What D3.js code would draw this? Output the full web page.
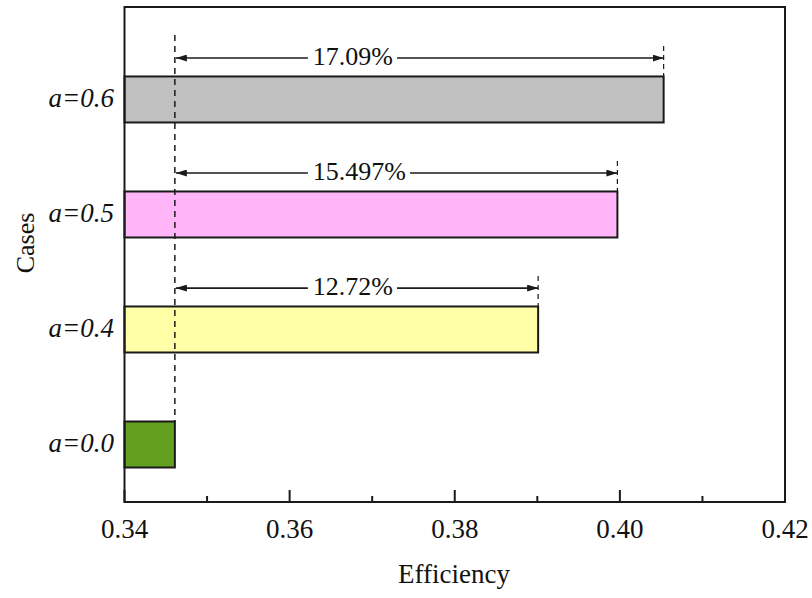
<!DOCTYPE html>
<html>
<head>
<meta charset="utf-8">
<script src="https://cdn.jsdelivr.net/npm/d3@7"></script>
<style>
  html, body { margin: 0; padding: 0; background: #fff; }
  svg { display: block; }
  text { font-family: "Liberation Serif", "Times New Roman", serif; fill: #111; }
</style>
</head>
<body>
<svg id="chart" width="812" height="598"></svg>
<script>
// Cases, bottom to top
const cases = ["a=0.0", "a=0.4", "a=0.5", "a=0.6"];
const efficiency = [0.3461, 0.3901, 0.3997, 0.4053];
const gainLabels = ["", "12.72%", "15.497%", "17.09%"];
const barColors = ["#63a021", "#ffffa8", "#ffb5f8", "#c0c0c0"];
const xTicks = [0.34, 0.36, 0.38, 0.40, 0.42];
const xMinorTicks = [0.35, 0.37, 0.39, 0.41];

const svg = d3.select("#chart");
const plotLeft = 124.5, plotRight = 785, plotTop = 7, plotBottom = 502;

const x = d3.scaleLinear().domain([0.34, 0.42]).range([plotLeft, plotRight]);
const y = d3.scaleLinear().domain([-0.5, 3.804]).range([plotBottom, plotTop]);
const barH = y(0) - y(0.4);

const ink = "#1a1a1a";

// Bars
svg.append("g").selectAll("rect")
  .data(cases)
  .join("rect")
  .attr("x", x(0.34))
  .attr("y", (d, i) => y(i) - barH / 2)
  .attr("width", (d, i) => x(efficiency[i]) - x(0.34))
  .attr("height", barH)
  .attr("fill", (d, i) => barColors[i])
  .attr("stroke", ink)
  .attr("stroke-width", 2);

// Reference line at the a=0.0 efficiency
const x0 = x(efficiency[0]);
svg.append("line")
  .attr("x1", x0).attr("x2", x0)
  .attr("y1", 35).attr("y2", y(0) - barH / 2)
  .attr("stroke", ink).attr("stroke-width", 1.5)
  .attr("stroke-dasharray", "6,5");

// Arrowhead
svg.append("defs").append("marker")
  .attr("id", "head")
  .attr("viewBox", "0 0 11 7")
  .attr("refX", 11).attr("refY", 3.5)
  .attr("markerWidth", 11).attr("markerHeight", 7)
  .attr("markerUnits", "userSpaceOnUse")
  .attr("orient", "auto-start-reverse")
  .append("path").attr("d", "M0,0 L11,3.5 L0,7 Z").attr("fill", ink);

// Gain annotations
const ann = svg.append("g");
[1, 2, 3].forEach(i => {
  const ay = y(i + 0.36);
  const xe = x(efficiency[i]);
  // end marker
  ann.append("line")
    .attr("x1", xe).attr("x2", xe)
    .attr("y1", ay - 12).attr("y2", y(i) - barH / 2)
    .attr("stroke", ink).attr("stroke-width", 1.2)
    .attr("stroke-dasharray", "5,4");
  const txt = ann.append("text")
    .attr("x", x0 + 138)
    .attr("y", ay + 7)
    .attr("font-size", 26)
    .text(gainLabels[i]);
  const w = txt.node().getComputedTextLength();
  const t0 = x0 + 138 - 5, t1 = x0 + 138 + w + 4;
  ann.append("line")
    .attr("x1", t0).attr("x2", x0 + 1).attr("y1", ay).attr("y2", ay)
    .attr("stroke", ink).attr("stroke-width", 1.6)
    .attr("marker-end", "url(#head)");
  ann.append("line")
    .attr("x1", t1).attr("x2", xe).attr("y1", ay).attr("y2", ay)
    .attr("stroke", ink).attr("stroke-width", 1.6)
    .attr("marker-end", "url(#head)");
});

// Frame
svg.append("rect")
  .attr("x", plotLeft).attr("y", plotTop)
  .attr("width", plotRight - plotLeft).attr("height", plotBottom - plotTop)
  .attr("fill", "none").attr("stroke", ink).attr("stroke-width", 2);

// X axis ticks (inward)
const xAxis = svg.append("g");
xAxis.selectAll("line.major").data(xTicks).join("line")
  .attr("class", "major")
  .attr("x1", d => x(d)).attr("x2", d => x(d))
  .attr("y1", plotBottom).attr("y2", plotBottom - 12)
  .attr("stroke", ink).attr("stroke-width", 2);
xAxis.selectAll("line.minor").data(xMinorTicks).join("line")
  .attr("class", "minor")
  .attr("x1", d => x(d)).attr("x2", d => x(d))
  .attr("y1", plotBottom).attr("y2", plotBottom - 6)
  .attr("stroke", ink).attr("stroke-width", 2);
xAxis.selectAll("text").data(xTicks).join("text")
  .attr("x", d => x(d)).attr("y", 538)
  .attr("text-anchor", "middle")
  .attr("font-size", 27)
  .text(d => d3.format(".2f")(d));

// Category labels
svg.append("g").selectAll("text").data(cases).join("text")
  .attr("x", 114).attr("y", (d, i) => y(i) + 8)
  .attr("text-anchor", "end")
  .attr("font-size", 27)
  .attr("font-style", "italic")
  .text(d => d);

// Axis titles
svg.append("text")
  .attr("x", 454).attr("y", 583)
  .attr("text-anchor", "middle")
  .attr("font-size", 27)
  .text("Efficiency");
svg.append("text")
  .attr("transform", "translate(34,243) rotate(-90)")
  .attr("text-anchor", "middle")
  .attr("font-size", 26)
  .text("Cases");
</script>
</body>
</html>
